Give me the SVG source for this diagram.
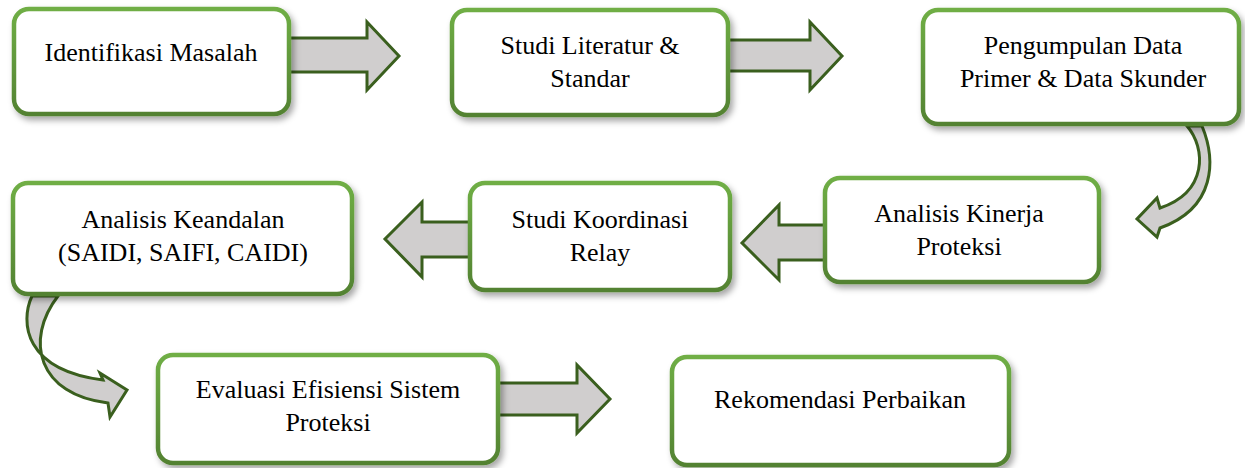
<svg xmlns="http://www.w3.org/2000/svg" width="1245" height="468" viewBox="0 0 1245 468">
<defs>
<linearGradient id="g" x1="0" y1="0" x2="0" y2="1">
<stop offset="0" stop-color="#6fae45"/>
<stop offset="1" stop-color="#538232"/>
</linearGradient>
<filter id="sh" x="-10%" y="-10%" width="125%" height="130%">
<feDropShadow dx="3" dy="4" stdDeviation="3" flood-color="#000" flood-opacity="0.35"/>
</filter>
<style>
.box{fill:#fff;stroke:url(#g);stroke-width:4.5;filter:url(#sh)}
.arr{fill:#d0cece;stroke:#3a5f1e;stroke-width:3;stroke-linejoin:miter}
.t{font-family:"Liberation Serif","Times New Roman",serif;font-size:26px;fill:#000;text-anchor:middle}
</style>
</defs>
<rect width="1245" height="468" fill="#fff"/>
<g id="connectors">
<path class="arr" d="M289,38 L367,38 L367,22 L399,56 L367,90 L367,72 L289,72 Z"/>
<path class="arr" d="M728,40 L810,40 L810,22 L842,56 L810,90 L810,71 L728,71 Z"/>
<path class="arr" d="M825,225 L779,225 L779,205 L742,243 L779,280 L779,260 L825,260 Z"/>
<path class="arr" d="M470,222 L422,222 L422,202 L385,239 L422,277 L422,257 L470,257 Z"/>
<path class="arr" d="M498,383 L577,383 L577,365 L610,399 L577,433 L577,415 L498,415 Z"/>
<path class="arr" d="M1187,126 C1206,148 1208,192 1160,208 L1157,198 L1137,219 L1157,237 L1160,228 C1216,208 1216,160 1202,126 Z"/>
<path class="arr" d="M32,296 C20,322 24,370 103,380 L100,373 L127,390 L110,417 L108,403 C38,395 24,340 58,296 Z"/>
</g>
<g id="n1"><rect class="box" x="14" y="9" width="275" height="105" rx="15"/>
<text class="t" x="151" y="61">Identifikasi Masalah</text></g>
<g id="n2"><rect class="box" x="452" y="10" width="276" height="105" rx="15"/>
<text class="t" x="590" y="54">Studi Literatur &amp;</text><text class="t" x="590" y="87">Standar</text></g>
<g id="n3"><rect class="box" x="923" y="10" width="316" height="114" rx="15"/>
<text class="t" x="1083" y="54">Pengumpulan Data</text><text class="t" x="1083" y="87">Primer &amp; Data Skunder</text></g>
<g id="n4"><rect class="box" x="825" y="178" width="274" height="104" rx="15"/>
<text class="t" x="959" y="222">Analisis Kinerja</text><text class="t" x="959" y="255">Proteksi</text></g>
<g id="n5"><rect class="box" x="470" y="183" width="260" height="107" rx="15"/>
<text class="t" x="600" y="228">Studi Koordinasi</text><text class="t" x="600" y="261">Relay</text></g>
<g id="n6"><rect class="box" x="13" y="183" width="339" height="111" rx="15"/>
<text class="t" x="183" y="228">Analisis Keandalan</text><text class="t" x="183" y="261">(SAIDI, SAIFI, CAIDI)</text></g>
<g id="n7"><rect class="box" x="158" y="355" width="340" height="108" rx="15"/>
<text class="t" x="328" y="398">Evaluasi Efisiensi Sistem</text><text class="t" x="328" y="431">Proteksi</text></g>
<g id="n8"><rect class="box" x="672" y="357" width="337" height="108" rx="15"/>
<text class="t" x="840" y="408">Rekomendasi Perbaikan</text></g>
</svg>
